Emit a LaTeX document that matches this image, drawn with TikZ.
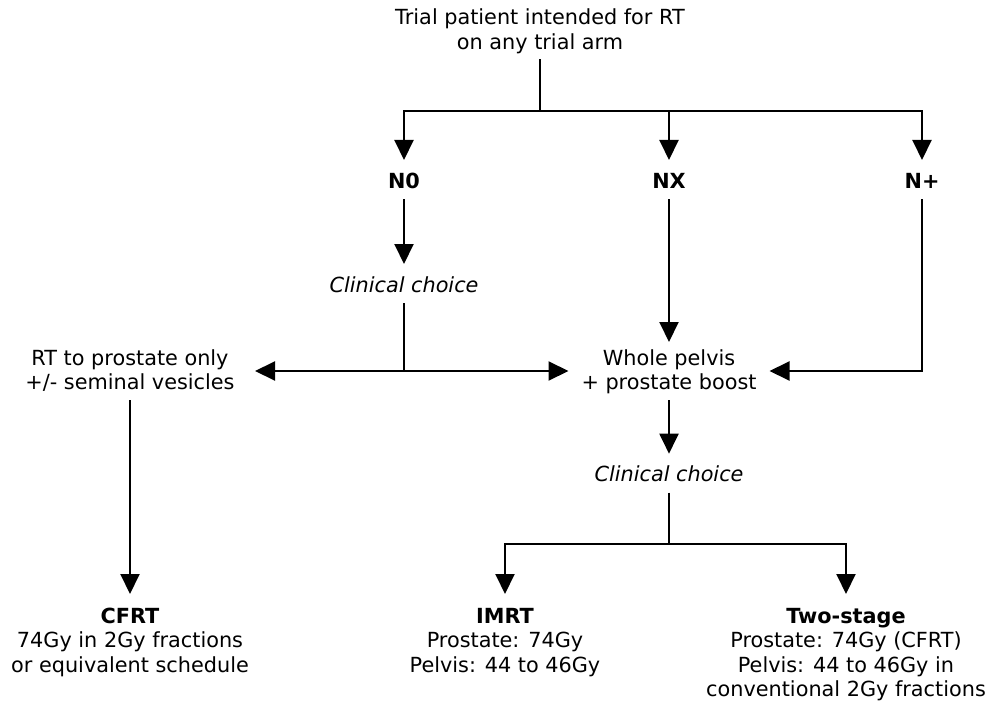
\documentclass[tikz,border=0pt]{standalone}
\usepackage{fontspec}
\setmainfont{DejaVu Sans}
\usetikzlibrary{arrows.meta}

\newcommand\diagfont{\fontsize{20.8}{24.5}\selectfont}

% every text node is placed at the baseline of its last line
\tikzset{
  lbl/.style={inner sep=0pt, anchor=base, align=center, font=\diagfont},
  head/.style={lbl, font=\diagfont\bfseries, text height=28pt, text depth=9pt},
  choice/.style={lbl, font=\diagfont\itshape, text height=27pt, text depth=10pt},
  twoline/.style={lbl, text height=46.5pt, text depth=9.5pt},
  threeline/.style={lbl, text height=77pt, text depth=5pt},
  fourline/.style={lbl, text height=101.5pt, text depth=5pt},
  arr/.style={-{Triangle[length=20pt,width=19pt]}},
}

\begin{document}
\begin{tikzpicture}[x=1pt, y=-1pt, line width=2pt]
  \useasboundingbox (0,0) rectangle (991,706);

  % entry point
  \node[lbl, text height=39.5pt, text depth=9pt] (title) at (540,49.5)
    {Trial patient intended for RT\\on any trial arm};

  % nodal status
  \node[head] (n0) at (404,189) {N0};
  \node[head] (nx) at (669,189) {NX};
  \node[head] (np) at (922,189) {N+};

  % first decision and the two volumes
  \node[choice] (cc1) at (404,292) {Clinical choice};
  \node[twoline, minimum width=248pt] (rt) at (130,389.5)
    {RT to prostate only\\+/- seminal vesicles};
  \node[twoline, minimum width=199pt] (wp) at (669,389.5)
    {Whole pelvis\\+ prostate boost};

  % second decision
  \node[choice] (cc2) at (669,481.7) {Clinical choice};

  % techniques
  \node[threeline] (cfrt) at (130,672)
    {\textbf{CFRT}\\74Gy in 2Gy fractions\\or equivalent schedule};
  \node[threeline] (imrt) at (505,672)
    {\textbf{IMRT}\\Prostate: 74Gy\\Pelvis: 44 to 46Gy};
  \node[fourline] (two) at (846,696.5)
    {\textbf{Two-stage}\\Prostate: 74Gy (CFRT)\\Pelvis: 44 to 46Gy in\\conventional 2Gy fractions};

  % junctions
  \coordinate (b1) at (540,111);
  \coordinate (b2) at (669,544);
  \coordinate (j1) at (cc1.south |- wp.west);

  % connectors
  \draw (title.south) -- (b1);
  \draw[arr] (b1) -| (n0);
  \draw[arr] (b1) -| (np);
  \draw[arr] (b1 -| nx) -- (nx);

  \draw[arr] (n0) -- (cc1);
  \draw (cc1.south) -- (j1);
  \draw[arr] (j1) -- (rt.east);
  \draw[arr] (j1) -- (wp.west);
  \draw[arr] (nx) -- (wp);
  \draw[arr] (np.south) |- (wp.east);

  \draw[arr] (rt) -- (cfrt);
  \draw[arr] (wp) -- (cc2);
  \draw (cc2.south) -- (b2);
  \draw[arr] (b2) -| (imrt);
  \draw[arr] (b2) -| (two);
\end{tikzpicture}
\end{document}
